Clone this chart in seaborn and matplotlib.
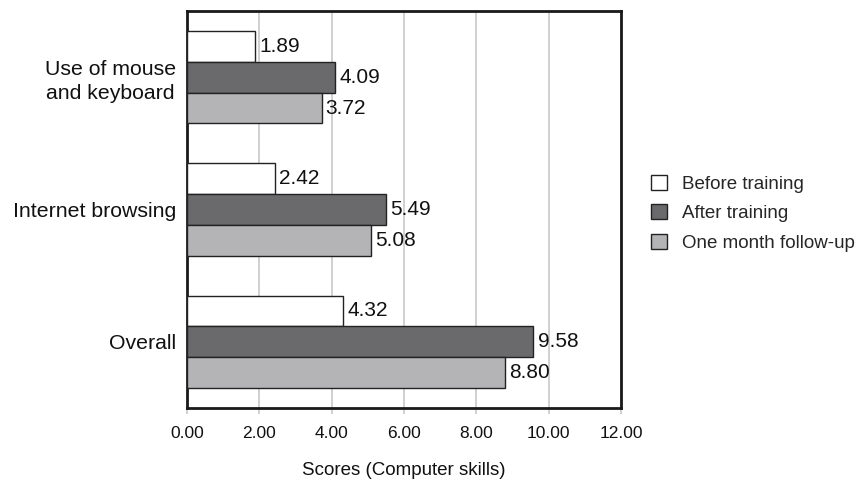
import numpy as np
import pandas as pd
import seaborn as sns
import matplotlib.pyplot as plt

categories = ["Use of mouse\nand keyboard", "Internet browsing", "Overall"]
groups = ["Before training", "After training", "One month follow-up"]
before = [1.89, 2.42, 4.32]
after = [4.09, 5.49, 9.58]
follow_up = [3.72, 5.08, 8.80]
xticks = [0, 2, 4, 6, 8, 10, 12]

colors = ["#ffffff", "#6a6a6d", "#b4b4b6"]

df = pd.DataFrame({
    "category": categories * 3,
    "group": [groups[0]] * 3 + [groups[1]] * 3 + [groups[2]] * 3,
    "score": before + after + follow_up,
})

sns.set_style("white")
plt.rcParams['font.family'] = ['Liberation Sans', 'DejaVu Sans']

fig = plt.figure(figsize=(8.6, 4.88), dpi=100)
ax = fig.add_axes([187 / 860, 80 / 488, 434 / 860, 397 / 488])

sns.barplot(data=df, y="category", x="score", hue="group", orient="h",
            palette=colors, width=0.7, edgecolor="#222222", linewidth=1.0,
            saturation=1, ax=ax, zorder=3)

for cont in ax.containers:
    ax.bar_label(cont, fmt="%.2f", padding=3, fontsize=15, color="#111111")

ax.set_xlim(0, 12)
ax.set_xticks(xticks)
ax.set_xticklabels(["%.2f" % v for v in xticks], fontsize=12.5, color="#111111")
ax.tick_params(axis="x", length=4, color="#c8c8c8", width=1.2, pad=9, bottom=True)
ax.tick_params(axis="y", length=0, labelsize=15.3, pad=8)
for lbl in ax.get_yticklabels():
    lbl.set_multialignment("center")
    lbl.set_linespacing(1.35)
    lbl.set_color("#111111")
ax.grid(axis="x", color="#c8c8c8", linewidth=1.2, zorder=0)
ax.set_axisbelow(True)
ax.set_ylabel("")
ax.set_xlabel("Scores (Computer skills)", fontsize=13.5, labelpad=15, color="#111111")
for s in ax.spines.values():
    s.set_linewidth(2)
    s.set_color("#1a1a1a")

ax.legend(loc="center left", bbox_to_anchor=(1.07, 0.49), frameon=False,
          borderaxespad=0, borderpad=0,
          fontsize=13.5, handlelength=0.85, handleheight=0.85, handletextpad=0.8,
          labelspacing=0.6)

fig.savefig("out.png", dpi=100)
